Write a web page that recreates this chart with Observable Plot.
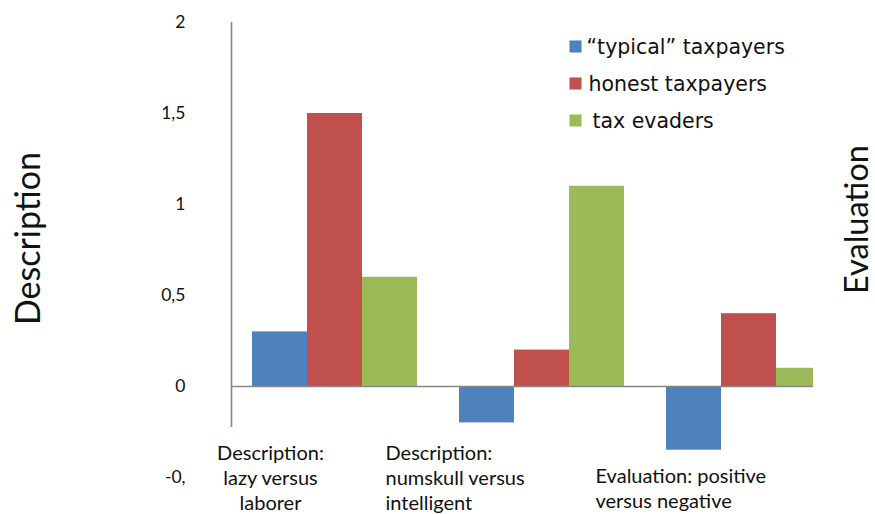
<!DOCTYPE html>
<html>
<head>
<meta charset="utf-8">
<script src="https://cdn.jsdelivr.net/npm/d3@7"></script>
<script src="https://cdn.jsdelivr.net/npm/@observablehq/plot@0.6"></script>
<style>
  html, body { margin: 0; padding: 0; background: #fff; }
  #chart { width: 875px; height: 514px; overflow: hidden; background: #fff; }
</style>
</head>
<body>
<div id="chart"></div>
<script>
// ---- data ----
const categories = ["lazy versus laborer", "numskull versus intelligent", "positive versus negative"];
const categoryLabels = ["Description:\nlazy versus\nlaborer", "Description:\nnumskull versus\nintelligent", "Evaluation: positive\nversus negative"];
const series = ["\u201Ctypical\u201D taxpayers", "honest taxpayers", "tax evaders"];
const typicalValues = [0.3, -0.2, -0.35];
const honestValues = [1.5, 0.2, 0.4];
const evaderValues = [0.6, 1.1, 0.1];
const yTicks = [-0.5, 0, 0.5, 1, 1.5, 2];
const yTickLabels = ["-0,", "0", "0,5", "1", "1,5", "2"];
const seriesColors = ["#4F81BD", "#C0504D", "#9BBB59"];
const leftTitle = "Description";
const rightTitle = "Evaluation";

const valuesBySeries = [typicalValues, honestValues, evaderValues];
const rows = series.flatMap((s, si) => categories.map((c, ci) => ({series: s, category: c, value: valuesBySeries[si][ci]})));

const axisGray = "#878787";
const textColor = "#111";
const barW = 55;

const marks = [];
// bars (grouped via insets within each category band)
series.forEach((s, i) => {
  marks.push(Plot.barY(rows.filter(d => d.series === s), {
    x: "category", y: "value", fill: "series",
    insetLeft: i * barW, insetRight: (series.length - 1 - i) * barW,
    clip: true
  }));
});
// zero baseline
marks.push(Plot.ruleY([0], {stroke: axisGray, strokeWidth: 1.6}));
// vertical axis line at the left edge of the plot area
marks.push(Plot.ruleX([categories[0]], {y1: 2, y2: -0.225, dx: -103.5, stroke: axisGray, strokeWidth: 1.6}));
// y axis labels
marks.push(Plot.axisY({
  ticks: yTicks,
  tickFormat: d => yTickLabels[yTicks.indexOf(d)],
  tickSize: 0, tickPadding: 46,
  fontSize: 17.5, fill: textColor, label: null
}));
// category labels (placed like the free text boxes of the original)
const catStyles = [
  {dx: -64.5, dy: -35, textAnchor: "middle"},
  {dx: -156.5, dy: -35, textAnchor: "start"},
  {dx: -153.5, dy: -12, textAnchor: "start"}
];
categories.forEach((c, i) => {
  marks.push(Plot.text([c], {
    x: d => d, text: () => categoryLabels[i],
    frameAnchor: "bottom", lineAnchor: "top", lineHeight: 1.25,
    fontSize: 20, fill: textColor, ...catStyles[i]
  }));
});
// rotated side titles
marks.push(Plot.text([leftTitle], {text: d => d, frameAnchor: "left", rotate: -90, dx: -202, dy: -11.5, fontSize: 34, fill: textColor, textAnchor: "middle", lineAnchor: "middle"}));
marks.push(Plot.text([rightTitle], {text: d => d, frameAnchor: "right", rotate: -90, dx: 44.5, dy: -30.5, fontSize: 32.5, fill: textColor, textAnchor: "middle", lineAnchor: "middle"}));
// legend
const legendDy = [24, 61, 98];
const legendTextDx = [355, 357, 361];
series.forEach((s, i) => {
  marks.push(Plot.dot([s], {frameAnchor: "top-left", fill: d => d, symbol: "square", r: 6.8, stroke: null, dx: 344, dy: legendDy[i]}));
  marks.push(Plot.text([s], {frameAnchor: "top-left", text: d => d, textAnchor: "start", lineAnchor: "middle", dx: legendTextDx[i], dy: legendDy[i] + 1, fontSize: 20.5, letterSpacing: 0.5, fontFamily: "DejaVu Sans", fill: textColor}));
});

const chart = Plot.plot({
  width: 875, height: 514,
  marginLeft: 231, marginRight: 62, marginTop: 22, marginBottom: 37,
  style: {fontFamily: "Lato, sans-serif", background: "#fff", overflow: "hidden"},
  x: {type: "band", domain: categories, range: [231, 852], paddingInner: 42 / 207, paddingOuter: 21 / 207, axis: null},
  y: {domain: [-0.5, 2], axis: null},
  color: {domain: series, range: seriesColors},
  marks
});
document.getElementById("chart").appendChild(chart);
</script>
</body>
</html>
